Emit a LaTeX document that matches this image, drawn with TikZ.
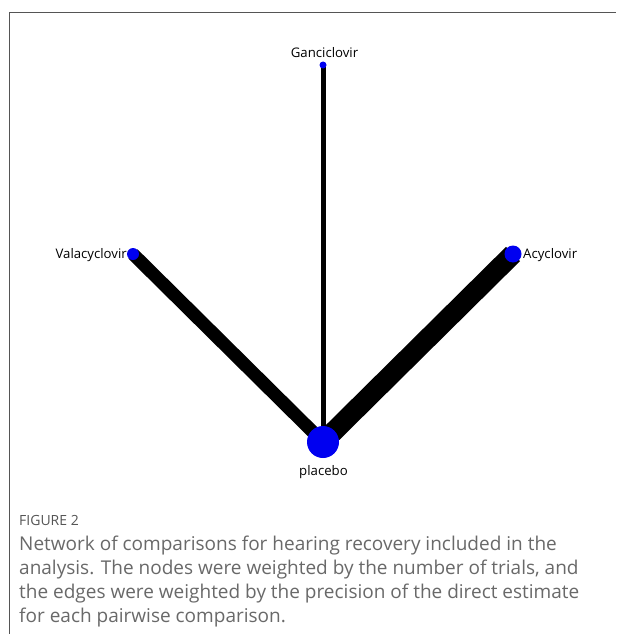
\documentclass[tikz,border=0pt]{standalone}
\usepackage{fontspec}
\setmainfont{Open Sans}
\newfontfamily\capfont{Open Sans}
\definecolor{nodeblue}{RGB}{0,0,240}
\definecolor{framegray}{RGB}{85,85,85}
\definecolor{capgray}{RGB}{105,105,105}
\begin{document}
\begin{tikzpicture}[x=1pt,y=-1pt,
  netnode/.style={circle,fill=nodeblue,inner sep=0pt},
  lab/.style={inner sep=0pt,font=\fontsize{13.2}{15}\selectfont},
  edge/.style={draw=black},
  capline/.style={inner sep=0pt,anchor=base west,text=capgray,font=\capfont\fontsize{19}{21}\selectfont},
  caphead/.style={inner sep=0pt,anchor=base west,text=framegray,font=\capfont\fontsize{14}{16}\selectfont},
  frame/.style={draw=framegray,line width=1pt}]
\useasboundingbox (0,0) rectangle (616,634);
\fill[white] (0,0) rectangle (616,634);
\draw[frame] (9,634) -- (9,13) -- (616,13);
\coordinate (g) at (323,65);
\coordinate (v) at (133,254);
\coordinate (a) at (513,254);
\coordinate (p) at (323,442);
\draw[edge,line width=5pt] (g) -- (p);
\draw[edge,line width=13pt] (v) -- (p);
\draw[edge,line width=20pt] (a) -- (p);
\node[netnode,minimum size=7pt] (G) at (g) {};
\node[netnode,minimum size=12pt] (V) at (v) {};
\node[netnode,minimum size=17pt] (A) at (a) {};
\node[netnode,minimum size=32pt] (P) at (p) {};
\node[lab,anchor=base] (Gl) at (324.5,58) {Ganciclovir};
\node[lab,anchor=base east] (Vl) at (127,258.5) {Valacyclovir};
\node[lab,anchor=base west] (Al) at (523,258.5) {Acyclovir};
\node[lab,anchor=base] (Pl) at (323.5,475.5) {placebo};
\node[caphead] (fig) at (19,525) {FIGURE 2};
\node[capline] (c1) at (19,550) {Network of comparisons for hearing recovery included in the};
\node[capline] (c2) at (19,574) {analysis. The nodes were weighted by the number of trials, and};
\node[capline] (c3) at (19,598) {the edges were weighted by the precision of the direct estimate};
\node[capline] (c4) at (19,622) {for each pairwise comparison.};
\end{tikzpicture}
\end{document}
